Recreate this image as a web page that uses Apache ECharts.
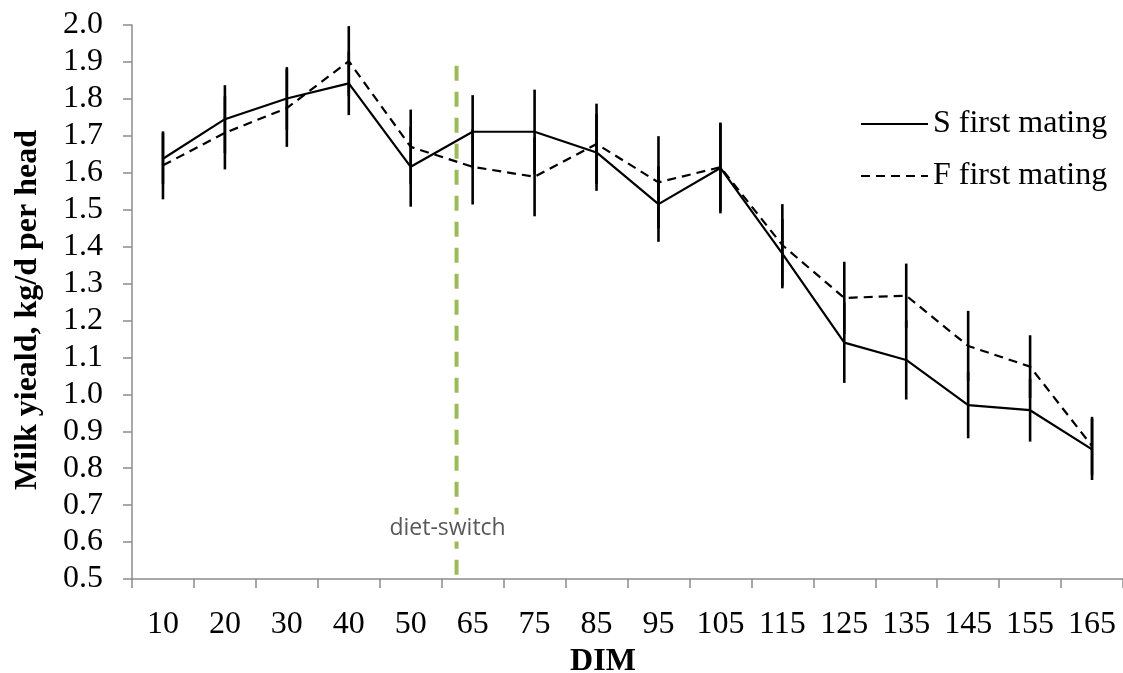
<!DOCTYPE html>
<html>
<head>
<meta charset="utf-8">
<title>Milk yield by DIM</title>
<script src="https://cdn.jsdelivr.net/npm/echarts@6/dist/echarts.min.js"></script>
<style>
  html, body { margin: 0; padding: 0; background: #fff; }
  #chart { width: 1123px; height: 673px; }
</style>
</head>
<body>
<div id="chart"></div>
<script>
// Days in milk (category axis)
const categories = ['10', '20', '30', '40', '50', '65', '75', '85', '95', '105', '115', '125', '135', '145', '155', '165'];

// Mean milk yield, kg/d per head
const sFirstMating = [1.638, 1.745, 1.801, 1.842, 1.616, 1.711, 1.711, 1.655, 1.515, 1.613, 1.381, 1.140, 1.093, 0.971, 0.957, 0.851];
const fFirstMating = [1.620, 1.708, 1.775, 1.902, 1.670, 1.616, 1.589, 1.678, 1.574, 1.615, 1.404, 1.261, 1.267, 1.131, 1.075, 0.860];

// Standard errors
const sError = [0.069, 0.092, 0.085, 0.086, 0.108, 0.099, 0.114, 0.104, 0.102, 0.123, 0.094, 0.109, 0.107, 0.090, 0.085, 0.083];
const fError = [0.092, 0.099, 0.105, 0.095, 0.101, 0.102, 0.107, 0.109, 0.125, 0.118, 0.111, 0.098, 0.087, 0.095, 0.085, 0.079];

// Y axis range and tick step
const yMin = 0.5, yMax = 2.0, yStep = 0.1;

// Diet switch marker: position on the category scale (between "50" and "65") and its top value
const dietSwitchPos = 4.74;
const dietSwitchTop = 1.89;
const dietSwitchLabel = 'diet-switch';
const dietSwitchLabelValue = 0.638;

const serif = '"Liberation Serif", "Times New Roman", serif';
const axisGray = '#8c8c8c';

const chart = echarts.init(document.getElementById('chart'), null, { renderer: 'canvas' });

function errorBarSeries(name, values, errors) {
  return {
    name: name + ' SE',
    type: 'custom',
    xAxisIndex: 0,
    yAxisIndex: 0,
    silent: true,
    z: 4,
    data: values.map((v, i) => [i, v, errors[i]]),
    renderItem: function (params, api) {
      const i = api.value(0), v = api.value(1), e = api.value(2);
      const top = api.coord([i, v + e]);
      const bottom = api.coord([i, v - e]);
      return {
        type: 'line',
        shape: { x1: top[0], y1: top[1], x2: bottom[0], y2: bottom[1] },
        style: { stroke: '#000', lineWidth: 2.6 }
      };
    }
  };
}

const option = {
  animation: false,
  backgroundColor: '#fff',
  grid: { left: 132, top: 25, width: 995, height: 554, containLabel: false },
  legend: {
    data: ['S first mating', 'F first mating'],
    orient: 'vertical',
    left: 855,
    top: 103,
    itemWidth: 67,
    itemHeight: 14,
    itemGap: 20,
    itemStyle: { opacity: 0 },
    textStyle: { fontFamily: serif, fontSize: 32, color: '#000', lineHeight: 32 },
    selectedMode: false
  },
  xAxis: [
    {
      type: 'category',
      data: categories,
      boundaryGap: true,
      axisLine: { onZero: false, lineStyle: { color: axisGray, width: 1.5 } },
      axisTick: { show: true, length: 9, lineStyle: { color: axisGray, width: 1.5 } },
      axisLabel: { fontFamily: serif, fontSize: 32, color: '#000', margin: 30, interval: 0 },
      splitLine: { show: false }
    },
    {
      // hidden linear scale aligned with category centres, for the diet switch marker
      type: 'value',
      min: -0.5,
      max: categories.length - 0.5,
      show: false,
      gridIndex: 0
    }
  ],
  yAxis: {
    type: 'value',
    min: yMin,
    max: yMax,
    interval: yStep,
    axisLine: { show: true, onZero: false, lineStyle: { color: axisGray, width: 1.5 } },
    axisTick: { show: true, length: 9, lineStyle: { color: axisGray, width: 1.5 } },
    axisLabel: {
      fontFamily: serif, fontSize: 32, color: '#000', margin: 29,
      formatter: v => v.toFixed(1)
    },
    splitLine: { show: false }
  },
  graphic: [
    {
      type: 'text',
      x: 603,
      y: 662,
      style: {
        text: 'DIM', fontFamily: serif, fontSize: 32, fontWeight: 'bold',
        fill: '#000', align: 'center', verticalAlign: 'middle'
      }
    },
    {
      type: 'text',
      x: 28,
      y: 310,
      rotation: Math.PI / 2,
      style: {
        text: 'Milk yieald, kg/d per head', fontFamily: serif, fontSize: 32, fontWeight: 'bold',
        fill: '#000', align: 'center', verticalAlign: 'middle'
      }
    }
  ],
  series: [
    {
      name: 'diet switch',
      type: 'line',
      xAxisIndex: 1,
      yAxisIndex: 0,
      silent: true,
      symbol: 'none',
      z: 1,
      data: [[dietSwitchPos, dietSwitchTop], [dietSwitchPos, yMin]],
      lineStyle: { color: '#9bbb59', width: 4, type: [15, 11] }
    },
    {
      name: 'diet switch label',
      type: 'custom',
      xAxisIndex: 1,
      yAxisIndex: 0,
      silent: true,
      z: 2,
      data: [[dietSwitchPos, dietSwitchLabelValue]],
      renderItem: function (params, api) {
        const p = api.coord([api.value(0), api.value(1)]);
        return {
          type: 'text',
          x: p[0] - 9,
          y: p[1],
          style: {
            text: dietSwitchLabel,
            fontFamily: '"Open Sans", "Liberation Sans", sans-serif',
            fontSize: 23,
            fill: '#595959',
            align: 'center',
            verticalAlign: 'middle',
            backgroundColor: '#fff',
            padding: [2, 0, 2, 0]
          }
        };
      }
    },
    {
      name: 'S first mating',
      type: 'line',
      data: sFirstMating,
      symbol: 'none',
      z: 3,
      lineStyle: { color: '#000', width: 2.2, type: 'solid' },
      itemStyle: { color: '#000' }
    },
    {
      name: 'F first mating',
      type: 'line',
      data: fFirstMating,
      symbol: 'none',
      z: 3,
      lineStyle: { color: '#000', width: 2.2, type: [9, 6] },
      itemStyle: { color: '#000' }
    },
    errorBarSeries('S first mating', sFirstMating, sError),
    errorBarSeries('F first mating', fFirstMating, fError)
  ]
};

chart.setOption(option);
</script>
</body>
</html>
